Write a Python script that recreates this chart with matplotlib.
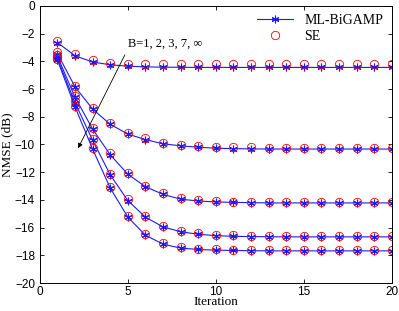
import numpy as np
from matplotlib import pyplot as plt

iters = np.arange(1, 21)

# ML-BiGAMP NMSE (dB) for B = 1, 2, 3, 7, inf
ml_b1 = [-2.65, -3.6, -4.05, -4.25, -4.35, -4.4, -4.42, -4.43, -4.44, -4.44,
         -4.44, -4.44, -4.44, -4.44, -4.44, -4.44, -4.44, -4.44, -4.44, -4.44]
ml_b2 = [-3.45, -5.85, -7.45, -8.55, -9.25, -9.65, -9.95, -10.1, -10.2, -10.27,
         -10.3, -10.32, -10.33, -10.33, -10.33, -10.33, -10.33, -10.33, -10.33, -10.33]
ml_b3 = [-3.65, -6.6, -8.9, -10.75, -12.15, -13.05, -13.6, -13.95, -14.08, -14.15,
         -14.18, -14.2, -14.22, -14.22, -14.22, -14.22, -14.22, -14.22, -14.22, -14.22]
ml_b7 = [-3.8, -7.0, -9.7, -12.2, -14.05, -15.25, -15.95, -16.3, -16.48, -16.58,
         -16.63, -16.65, -16.66, -16.67, -16.67, -16.67, -16.67, -16.67, -16.67, -16.67]
ml_binf = [-3.92, -7.3, -10.35, -13.15, -15.25, -16.55, -17.2, -17.48, -17.58, -17.63,
           -17.65, -17.67, -17.68, -17.68, -17.68, -17.68, -17.68, -17.68, -17.68, -17.68]

# state evolution predictions
se_b1 = [-2.55, -3.5, -3.92, -4.1, -4.18, -4.2, -4.22, -4.22, -4.22, -4.22,
         -4.22, -4.22, -4.22, -4.22, -4.22, -4.22, -4.22, -4.22, -4.22, -4.22]
se_b2 = [-3.35, -5.75, -7.35, -8.45, -9.15, -9.55, -9.87, -10.02, -10.12, -10.18,
         -10.2, -10.21, -10.22, -10.22, -10.22, -10.22, -10.22, -10.22, -10.22, -10.22]
se_b3 = [-3.55, -6.5, -8.8, -10.65, -12.05, -12.98, -13.52, -13.88, -14.02, -14.1,
         -14.12, -14.13, -14.14, -14.14, -14.14, -14.14, -14.14, -14.14, -14.14, -14.14]
se_b7 = [-3.7, -6.85, -9.6, -12.1, -13.95, -15.15, -15.88, -16.22, -16.42, -16.52,
         -16.57, -16.59, -16.6, -16.6, -16.6, -16.6, -16.6, -16.6, -16.6, -16.6]
se_binf = [-3.82, -7.2, -10.25, -13.05, -15.15, -16.45, -17.12, -17.42, -17.52, -17.57,
           -17.6, -17.61, -17.62, -17.62, -17.62, -17.62, -17.62, -17.62, -17.62, -17.62]

ml_all = [ml_b1, ml_b2, ml_b3, ml_b7, ml_binf]
se_all = [se_b1, se_b2, se_b3, se_b7, se_binf]

if __name__ == '__main__':
  plt.rcParams['font.family'] = ['Liberation Serif', 'DejaVu Serif']
  fig = plt.figure(figsize=(3.99, 3.11), dpi=100)
  ax = fig.add_axes([0.1, 0.09, 0.882, 0.891])

  for i, (ml, se) in enumerate(zip(ml_all, se_all)):
    ax.plot(iters, ml, color='#1a1aff', linewidth=0.8, marker=(6, 2, 0), markersize=5.5,
            markeredgewidth=0.8, label='ML-BiGAMP' if i == 0 else None)
    ax.plot(iters, se, linestyle='none', marker='o', markersize=6,
            markerfacecolor='none', markeredgecolor='red', markeredgewidth=0.6,
            label='SE' if i == 0 else None)

  ax.annotate('', xy=(2.1, -10.45), xytext=(4.9, -3.35),
              arrowprops=dict(arrowstyle='-|>', color='black', linewidth=0.6,
                              mutation_scale=7))
  ax.text(5.0, -2.7, 'B=1, 2, 3, 7, \u221e', fontsize=9, va='center', ha='left')

  ax.set_xlim(0, 20)
  ax.set_ylim(-20, 0)
  ax.set_xticks([0, 5, 10, 15, 20])
  ax.set_yticks(np.arange(-20, 1, 2))
  ax.tick_params(direction='in', top=True, right=True, length=3, width=0.6,
                 labelsize=8.5)
  ax.tick_params(axis='x', pad=2)
  for lab in ax.get_xticklabels() + ax.get_yticklabels():
    lab.set_family('Liberation Sans')
  for s in ax.spines.values():
    s.set_linewidth(0.7)
  ax.set_xlabel('Iteration', fontsize=9.5, labelpad=-1)
  ax.set_ylabel('NMSE (dB)', fontsize=9.5, labelpad=1)
  ax.legend(loc='upper right', frameon=False, fontsize=10, handlelength=2.6,
            borderaxespad=0.2, labelspacing=0.2)
  fig.savefig('out.png', dpi=100)
